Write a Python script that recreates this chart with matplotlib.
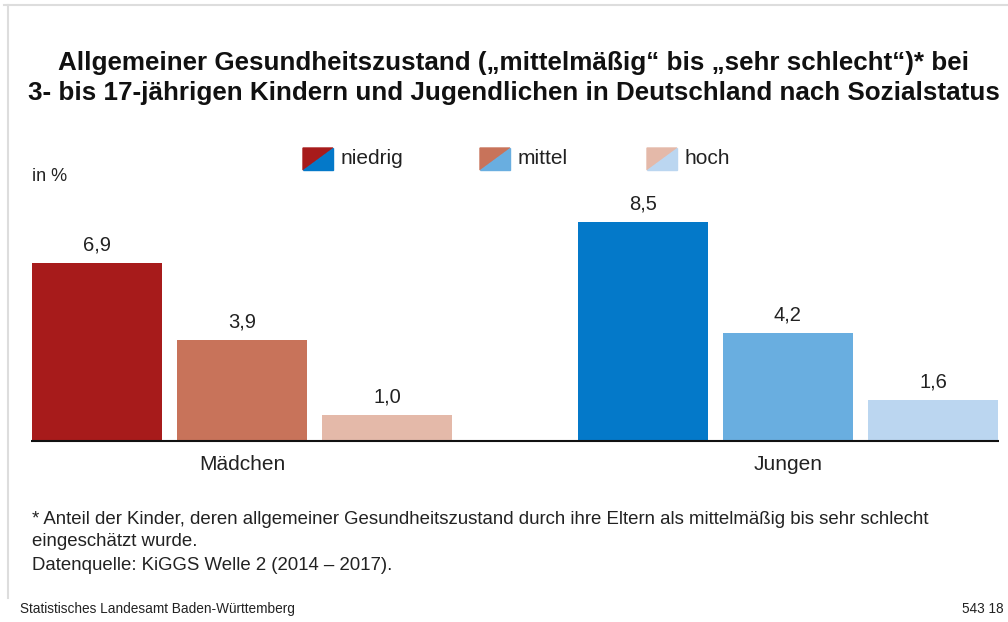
import matplotlib
matplotlib.use("Agg")
import matplotlib.pyplot as plt
from matplotlib.patches import Polygon
from matplotlib.lines import Line2D

plt.rcParams['font.family'] = ['Liberation Sans', 'DejaVu Sans']

groups = ["Mädchen", "Jungen"]
series = ["niedrig", "mittel", "hoch"]
values_maedchen = [6.9, 3.9, 1.0]
values_jungen = [8.5, 4.2, 1.6]
labels_maedchen = ["6,9", "3,9", "1,0"]
labels_jungen = ["8,5", "4,2", "1,6"]
colors_maedchen = ["#A71B1B", "#C8735A", "#E4B9A9"]
colors_jungen = ["#0479C9", "#69AEE0", "#BBD6F0"]

W, H = 1008, 622
fig = plt.figure(figsize=(W / 100, H / 100), dpi=100)
TXT = "#222222"

def fx(px):
    return px / W

def fy(py):
    return 1 - py / H

# border
fig.add_artist(Line2D([fx(4), fx(1008)], [fy(5), fy(5)], color="#DDDDDD", lw=1.5))
fig.add_artist(Line2D([fx(8), fx(8)], [fy(5), fy(598)], color="#DDDDDD", lw=1.5))

# title
fig.text(fx(514), fy(78), "Allgemeiner Gesundheitszustand (\u201emittelmäßig\u201c bis \u201esehr schlecht\u201c)* bei\n3- bis 17-jährigen Kindern und Jugendlichen in Deutschland nach Sozialstatus",
         ha="center", va="center", fontsize=18.7, fontweight="bold", color="#111111", linespacing=1.27)

# axes
ax_left, ax_right, ax_base, ax_top = 31, 999, 441, 200
ax = fig.add_axes([fx(ax_left), fy(ax_base), (ax_right - ax_left) / W, (ax_base - ax_top) / H])
ax.set_xlim(-0.455, 6.215)
ax.set_ylim(0, (ax_base - ax_top) / 25.8)
ax.axis("off")

group_offset = 3.76
bw = 0.897
for g, (vals, labs, cols) in enumerate([(values_maedchen, labels_maedchen, colors_maedchen),
                                        (values_jungen, labels_jungen, colors_jungen)]):
    for i, (v, lab, c) in enumerate(zip(vals, labs, cols)):
        x = i + g * group_offset
        ax.bar(x, v, width=bw, color=c, edgecolor="none")
        ax.text(x, v + 0.33, lab, ha="center", va="bottom", fontsize=14.5, color=TXT)
    ax.text(1 + g * group_offset, -0.92, groups[g], ha="center", va="center", fontsize=15,
            color=TXT, clip_on=False)
ax.plot([-0.455, 6.215], [0, 0], color="#111111", lw=1.5, clip_on=False, solid_capstyle="butt")

# legend
leg_x = [303, 480, 647]
for px, name, c1, c2 in zip(leg_x, series, colors_maedchen, colors_jungen):
    x0, x1 = fx(px), fx(px + 30)
    y0, y1 = fy(170), fy(148)
    fig.add_artist(Polygon([[x0, y1], [x1, y1], [x0, y0]], closed=True, color=c1, transform=fig.transFigure))
    fig.add_artist(Polygon([[x1, y1], [x1, y0], [x0, y0]], closed=True, color=c2, transform=fig.transFigure))
    fig.text(fx(px + 38), fy(158), name, ha="left", va="center", fontsize=15, color=TXT)

fig.text(fx(32), fy(177), "in %", ha="left", va="center", fontsize=13, color=TXT)

# footnotes
fs = 13.45
fig.text(fx(32), fy(519), "* Anteil der Kinder, deren allgemeiner Gesundheitszustand durch ihre Eltern als mittelmäßig bis sehr schlecht",
         ha="left", va="center", fontsize=fs, color=TXT)
fig.text(fx(32), fy(541), "eingeschätzt wurde.", ha="left", va="center", fontsize=fs, color=TXT)
fig.text(fx(32), fy(566), "Datenquelle: KiGGS Welle 2 (2014 \u2013 2017).", ha="left", va="center", fontsize=fs, color=TXT)

fig.text(fx(20), fy(609), "Statistisches Landesamt Baden-Württemberg", ha="left", va="center",
         fontsize=9.8, color=TXT)
fig.text(fx(1004), fy(609), "543 18", ha="right", va="center", fontsize=9.8, color=TXT)

fig.savefig("out.png", dpi=100)
